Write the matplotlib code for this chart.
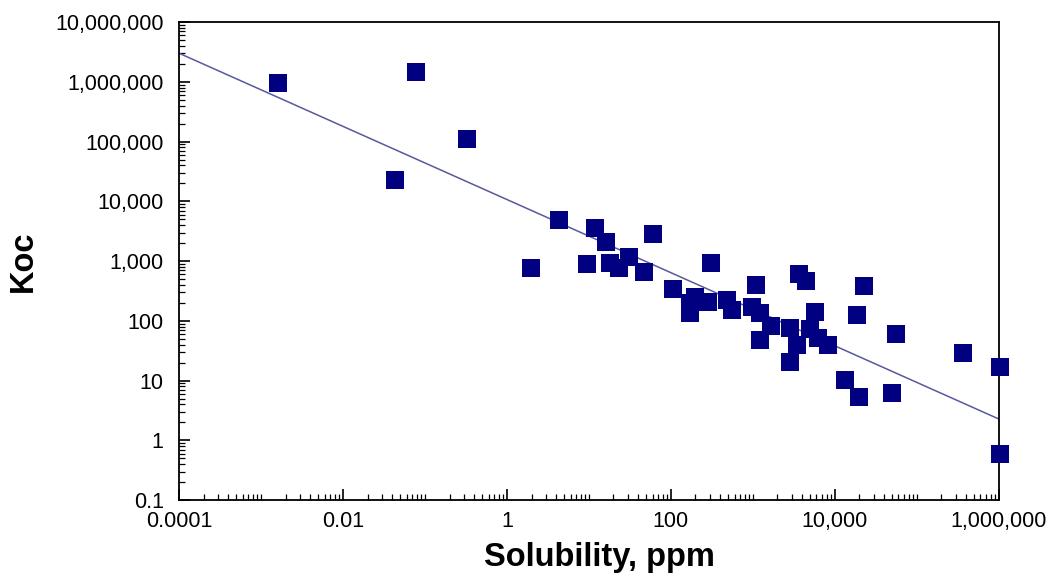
import matplotlib
matplotlib.use("Agg")
import matplotlib.pyplot as plt
from matplotlib.ticker import LogLocator, FuncFormatter, NullFormatter
import numpy as np

plt.rcParams['font.family'] = ['Liberation Sans', 'DejaVu Sans']

# solubility (ppm) and Koc
solubility = [0.00161, 0.0431, 0.0776, 0.325, 1.96, 4.31, 11.8, 16.1, 9.46, 18.0,
              23.2, 30.8, 60.3, 46.9, 106, 308, 196, 171, 171, 282,
              482, 555, 1090, 3640, 4430, 22600, 18500, 55500, 973, 1216,
              1660, 1216, 2820, 3440, 2820, 5700, 6200, 8220, 13200, 19600,
              49500, 364000, 1030000, 1030000, 4950]
koc = [953000, 22700, 1460000, 110000, 764, 4850, 3560, 2080, 891, 927,
       764, 1170, 2830, 655, 340, 927, 250, 135, 198, 206,
       222, 151, 396, 606, 462, 382, 125, 60, 170, 135,
       82, 47.6, 75.7, 39.3, 20.4, 140, 51.4, 39.3, 10.2, 5.3,
       6.2, 28.8, 16.8, 0.59, 73]

# regression line: log10(Koc) = fit_intercept + fit_slope * log10(S)
fit_intercept = 4.03
fit_slope = -0.612
fit_x = [0.0001, 1000000]

fig = plt.figure(figsize=(10.5, 5.75), dpi=100)
ax = fig.add_axes([0.1705, 0.1304, 0.7805, 0.8313])

fx = np.array(fit_x)
ax.plot(fx, 10 ** (fit_intercept + fit_slope * np.log10(fx)), color='#5858a0', lw=1.1, zorder=2)
ax.plot(solubility, koc, 's', color='#000080', markersize=12.5, markeredgewidth=0,
        linestyle='none', zorder=3, clip_on=False)

ax.set_xscale('log')
ax.set_yscale('log')
ax.set_xlim(0.0001, 1000000)
ax.set_ylim(0.1, 10000000)


def fmt(v, pos):
    if v < 1:
        return f"{v:g}" if v >= 0.001 else f"{v:.4f}"
    return f"{int(round(v)):,}"


ax.xaxis.set_major_locator(LogLocator(base=100))
ax.xaxis.set_minor_locator(LogLocator(base=10, subs=np.arange(1, 10), numticks=30))
ax.yaxis.set_major_locator(LogLocator(base=10, numticks=20))
ax.yaxis.set_minor_locator(LogLocator(base=10, subs=np.arange(2, 10), numticks=30))
ax.xaxis.set_major_formatter(FuncFormatter(fmt))
ax.yaxis.set_major_formatter(FuncFormatter(fmt))
ax.xaxis.set_minor_formatter(NullFormatter())
ax.yaxis.set_minor_formatter(NullFormatter())

ax.tick_params(which='major', direction='in', length=8, width=1.2, labelsize=15.5, pad=8,
               top=False, right=False)
ax.tick_params(axis='y', which='major', pad=11)
ax.tick_params(which='minor', direction='in', length=4, width=0.9, top=False, right=False)
for s in ax.spines.values():
    s.set_linewidth(1.3)

ax.set_xlabel("Solubility, ppm", fontsize=23.5, fontweight='bold')
ax.xaxis.set_label_coords(0.513, -0.087)
ax.set_ylabel("Koc", fontsize=23.5, fontweight='bold', labelpad=12)

fig.savefig("out.png", dpi=100)
